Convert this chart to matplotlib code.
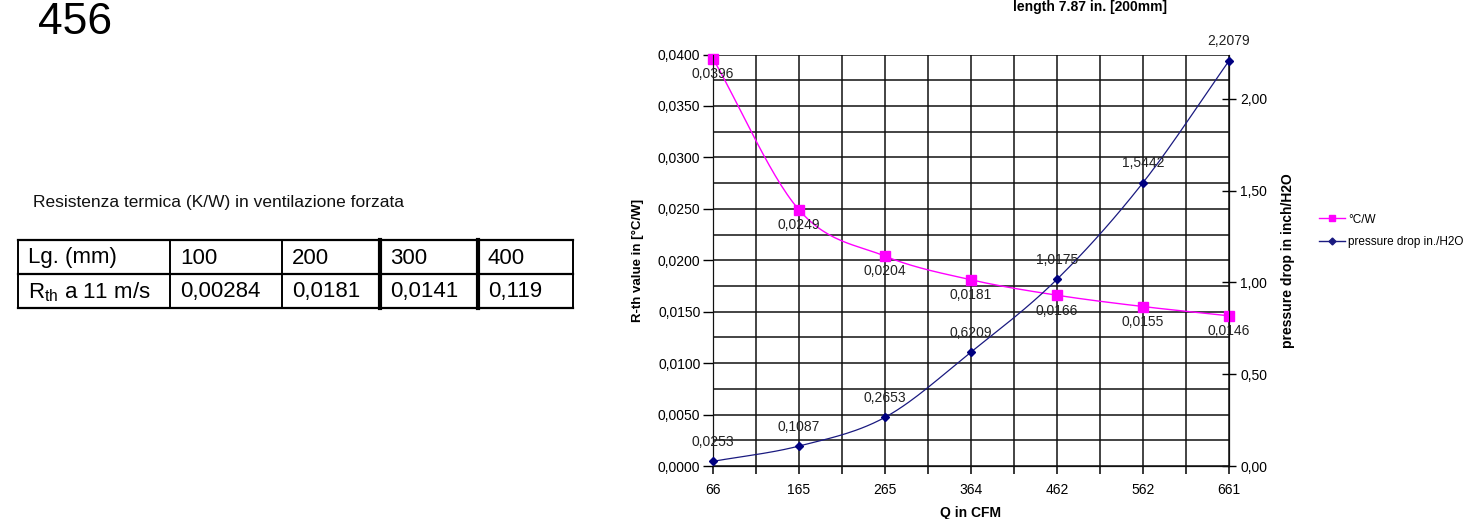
import matplotlib
matplotlib.use('Agg')
import matplotlib.pyplot as plt
import numpy as np
from matplotlib.ticker import FuncFormatter, MultipleLocator
from matplotlib.lines import Line2D

plt.rcParams['font.family'] = ['Liberation Sans', 'DejaVu Sans']

# data
q_cfm = ['66', '165', '265', '364', '462', '562', '661']
rth = [0.0396, 0.0249, 0.0204, 0.0181, 0.0166, 0.0155, 0.0146]
pdrop = [0.0253, 0.1087, 0.2653, 0.6209, 1.0175, 1.5442, 2.2079]

table_head = ['Lg. (mm)', '100', '200', '300', '400']
table_row = ['0,00284', '0,0181', '0,0141', '0,119']


def comma(v, fmt):
    return (fmt % v).replace('.', ',')


def smooth(xs, ys, n=30):
    # catmull-rom curve through the points (like excel "smoothed line")
    xs = np.asarray(xs, float)
    ys = np.asarray(ys, float)
    px = np.concatenate([[2 * xs[0] - xs[1]], xs, [2 * xs[-1] - xs[-2]]])
    py = np.concatenate([[2 * ys[0] - ys[1]], ys, [2 * ys[-1] - ys[-2]]])
    outx, outy = [], []
    t = np.linspace(0, 1, n)
    for i in range(1, len(px) - 2):
        for p, out in ((px, outx), (py, outy)):
            p0, p1, p2, p3 = p[i - 1], p[i], p[i + 1], p[i + 2]
            out.extend(0.5 * (2 * p1 + (-p0 + p2) * t + (2 * p0 - 5 * p1 + 4 * p2 - p3) * t ** 2
                              + (-p0 + 3 * p1 - 3 * p2 + p3) * t ** 3))
    return outx, outy


W, H = 1479, 519
fig = plt.figure(figsize=(W / 100, H / 100), dpi=100)

ax = fig.add_axes([713 / W, 1 - 466 / H, (1229 - 713) / W, (466 - 54.5) / H])
x = np.arange(len(q_cfm))

ax.set_xlim(0, len(q_cfm) - 1)
ax.set_ylim(0, 0.04)
ax.set_xticks(x)
ax.set_xticklabels(q_cfm, fontsize=10)
ax.xaxis.set_minor_locator(MultipleLocator(0.5))
ax.yaxis.set_major_locator(MultipleLocator(0.005))
ax.yaxis.set_minor_locator(MultipleLocator(0.0025))
ax.yaxis.set_major_formatter(FuncFormatter(lambda v, p: comma(v, '%.4f')))
ax.tick_params(axis='y', which='major', length=7, width=1, labelsize=10, pad=2)
ax.tick_params(axis='y', which='minor', length=0)
ax.tick_params(axis='x', which='both', length=6, width=1.1, labelsize=10, pad=6)
ax.grid(True, which='both', color='#111111', lw=1.1)
for s in ax.spines.values():
    s.set_color('#111111')
ax.spines['top'].set_visible(False)
ax.set_axisbelow(True)

sx, sy = smooth(x, rth)
ax.plot(sx, sy, color='#ff00ff', lw=1, zorder=3)
ax.plot(x, rth, 's', color='#ff00ff', ms=7, zorder=4, clip_on=False)
for xi, v in zip(x, rth):
    ax.annotate(comma(v, '%.4f'), (xi, v), xytext=(0, -11), textcoords='offset points',
                ha='center', va='center', fontsize=10, color='#222222', zorder=5)

ax.set_xlabel('Q in CFM', fontsize=10, fontweight='bold', labelpad=7)
ax.set_ylabel('R-th value in [°C/W]', fontsize=9.5, fontweight='bold', labelpad=10)

ax2 = ax.twinx()
ax2.set_ylim(0, 2.2425)
ax2.yaxis.set_major_locator(MultipleLocator(0.5))
ax2.yaxis.set_major_formatter(FuncFormatter(lambda v, p: comma(v, '%.2f')))
ax2.tick_params(axis='y', direction='inout', length=10, width=1, labelsize=10, pad=3)
ax2.spines['top'].set_visible(False)
for s in ax2.spines.values():
    s.set_color('#111111')
bx, by = smooth(x, pdrop)
ax2.plot(bx, by, color='#1a1a80', lw=0.9, zorder=3)
ax2.plot(x, pdrop, 'D', color='#000080', ms=4.5, zorder=4, clip_on=False)
for xi, v in zip(x, pdrop):
    ax2.annotate(comma(v, '%.4f'), (xi, v), xytext=(0, 14), textcoords='offset points',
                 ha='center', va='center', fontsize=10, color='#222222', zorder=5)
ax2.set_ylabel('pressure drop in inch/H2O', fontsize=10, fontweight='bold', labelpad=10)

handles = [Line2D([], [], color='#ff00ff', marker='s', ms=5, lw=1),
           Line2D([], [], color='#1a1a80', marker='D', ms=3.5, lw=1)]
fig.legend(handles, ['°C/W', 'pressure drop in./H2O'], loc='upper left',
           bbox_to_anchor=(1308 / W, 1 - 203 / H), frameon=False, fontsize=8.5,
           handlelength=2.2, handletextpad=0.3, labelspacing=0.9)

fig.text(1090 / W, 1.0, 'length 7.87 in. [200mm]', ha='center', va='top',
         fontsize=10, fontweight='bold')

# left side: page number, caption and table, drawn in pixel coords
ov = fig.add_axes([0, 0, 1, 1], zorder=-1)
ov.set_xlim(0, W)
ov.set_ylim(H, 0)
ov.axis('off')

ov.text(38, 22, '456', fontsize=32, ha='left', va='center')
ov.text(33, 203, 'Resistenza termica (K/W) in ventilazione forzata', fontsize=12.5,
        ha='left', va='center', color='#111111')

cols = [18, 170, 282, 380, 478, 573]
rows = [240, 274, 308]
for yy in rows:
    ov.plot([cols[0], cols[-1]], [yy, yy], color='black', lw=1.6)
for i, xx in enumerate(cols):
    lw = 3 if xx in (380, 478) else 1.4
    ov.plot([xx, xx], [rows[0], rows[-1]], color='black', lw=lw)

for i, t in enumerate(table_head):
    ov.text(cols[i] + 10, (rows[0] + rows[1]) / 2 + 1, t, fontsize=16, ha='left', va='center')
ov.text(cols[0] + 10, (rows[1] + rows[2]) / 2 + 1, r'R$_{\mathregular{th}}$ a 11 m/s',
        fontsize=16, ha='left', va='center')
for i, t in enumerate(table_row):
    ov.text(cols[i + 1] + 10, (rows[1] + rows[2]) / 2 + 1, t, fontsize=16, ha='left', va='center')

fig.savefig('out.png', dpi=100)
